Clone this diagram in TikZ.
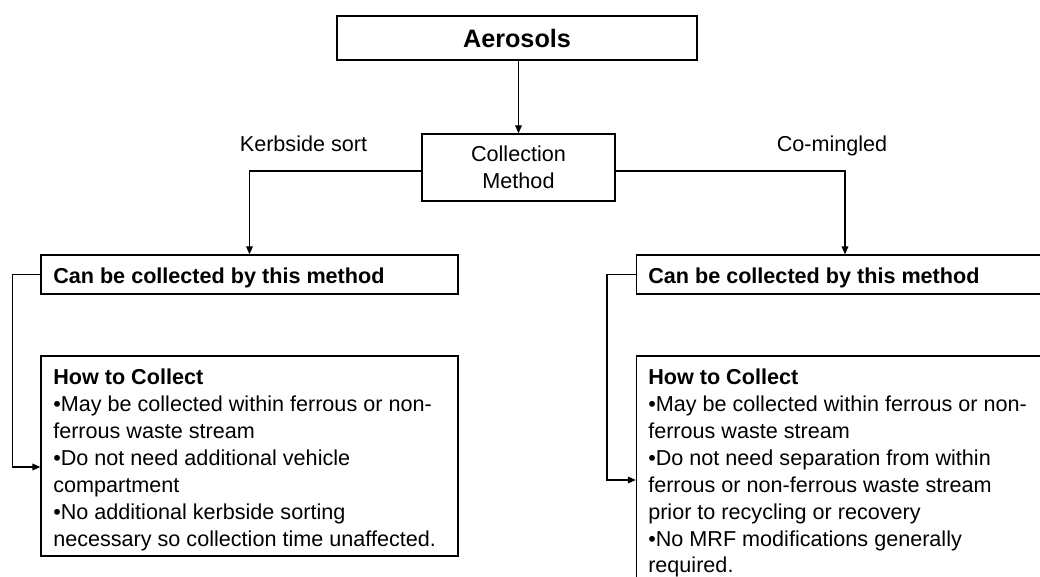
\documentclass[tikz,border=0pt]{standalone}
\usepackage{fontspec}
\setmainfont{Liberation Sans}
\usetikzlibrary{arrows.meta,fit}

\tikzset{
  box/.style={draw=black, line width=1pt, rectangle, inner sep=0pt},
  link/.style={draw=black, line width=1pt},
  arr/.style={link, -{Triangle[length=6pt,width=5pt]}},
  body/.style={font=\fontsize{16.2pt}{20.2pt}\selectfont, inner sep=0pt},
  bodyb/.style={font=\fontsize{16.2pt}{20.2pt}\selectfont\bfseries, inner sep=0pt},
}

\begin{document}
\begin{tikzpicture}[x=0.75pt, y=-0.75pt]
  \useasboundingbox (0,0) rectangle (1040,577);
  \clip (0,0) rectangle (1040,577);

  % top of the tree
  \node[box, minimum width=270pt, minimum height=33pt,
        font=\fontsize{18.9pt}{22pt}\selectfont\bfseries] (aer) at (517,38) {Aerosols};
  \node[box, minimum width=144.75pt, minimum height=50.25pt, align=center,
        font=\fontsize{16.2pt}{20.25pt}\selectfont] (coll) at (518.5,167.5) {Collection\\Method};

  % branch labels
  \node[body, anchor=base] (kerb) at (303.5,152) {Kerbside sort};
  \node[body, anchor=base] (comi) at (832,152) {Co-mingled};

  % left branch boxes
  \node[box, minimum width=312.75pt, minimum height=29.25pt] (can1) at (249.5,274.5) {};
  \node[bodyb, anchor=base west] (can1t) at (53,284) {Can be collected by this method};
  \node[box, minimum width=312.75pt, minimum height=150pt] (how1) at (249.5,456) {};
  \node[body, anchor=north west, align=left] (how1t) at (53,368.5)
    {\textbf{How to Collect}\\
     •May be collected within ferrous or non-\\
     ferrous waste stream\\
     •Do not need additional vehicle\\
     compartment\\
     •No additional kerbside sorting\\
     necessary so collection time unaffected.};

  % right branch boxes
  \node[box, minimum width=312.75pt, minimum height=29.25pt] (can2) at (845,274.5) {};
  \node[bodyb, anchor=base west] (can2t) at (648,284) {Can be collected by this method};
  \node[box, minimum width=312.75pt, minimum height=186pt] (how2) at (845,480) {};
  \node[body, anchor=north west, align=left] (how2t) at (648,368.5)
    {\textbf{How to Collect}\\
     •May be collected within ferrous or non-\\
     ferrous waste stream\\
     •Do not need separation from within\\
     ferrous or non-ferrous waste stream\\
     prior to recycling or recovery\\
     •No MRF modifications generally\\
     required.};

  % connectors
  \draw[arr] (aer.south -| coll.north) -- (coll.north);
  \draw[arr] ([yshift=-2.6pt]coll.west) -| (can1.north);
  \draw[arr] ([yshift=-2.6pt]coll.east) -| (can2.north);
  \draw[arr] (can1.west) -- ++(-28,0) |- ([yshift=-8.25pt]how1.west);
  \draw[arr] (can2.west) -- ++(-29,0) |- (how2.west);
\end{tikzpicture}
\end{document}
